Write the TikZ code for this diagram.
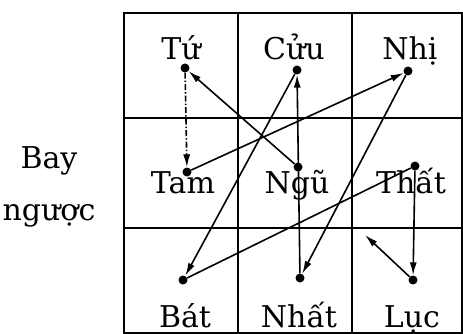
\documentclass[tikz,border=0pt]{standalone}
\usepackage{fontspec}
\setmainfont{DejaVu Serif}
\usetikzlibrary{arrows.meta, positioning}

\begin{document}
\begin{tikzpicture}[
  x=1pt, y=-1pt,
  every node/.style={font=\fontsize{30}{34}\selectfont, inner sep=0pt},
  gridline/.style={line width=1.3pt},
  dot/.style={circle, fill, inner sep=0pt, minimum size=9pt},
  arr/.style={-{Latex[length=13pt, width=7pt]}, line width=1.6pt},
  lnk/.style={line width=1.6pt},
]
  \useasboundingbox (0,0) rectangle (463,334);

  % Grid
  \draw[gridline] (124,13) rectangle (462,333);
  \foreach \x in {238, 352} \draw[gridline] (\x,13) -- (\x,333);
  \foreach \y in {118, 228} \draw[gridline] (124,\y) -- (462,\y);

  % Side label
  \node[anchor=base] (bay) at (49,168) {Bay};
  \node[anchor=base] (nguoc) at (49,220) {ngược};

  % Cell names: number/x/baseline/text
  \foreach \n/\x/\y/\t in {4/181/60/Tứ, 9/294/60/Cửu, 2/410/60/Nhị,
                           3/183/193/Tam, 5/297/193/Ngũ, 7/411/193/Thất,
                           8/185/327/Bát, 1/299/327/Nhất, 6/412/327/Lục}
    \node[anchor=base] (t\n) at (\x,\y) {\t};

  % Stars
  \foreach \n/\x/\y in {4/185/68, 9/297/70, 2/408/71,
                        3/187/172, 5/298/167, 7/415/166,
                        8/183/280, 1/300/278, 6/413/280}
    \node[dot] (d\n) at (\x,\y) {};

  % Flying backwards: 5 4 3 2 1 9 8 7 6
  \draw[arr] (d5) -- (d4);
  \draw[arr, dash pattern=on 6pt off 2pt on 1.5pt off 2pt] (d4) -- (d3);
  \draw[arr] (d3) -- (d2);
  \draw[arr] (d2) -- (d1);
  \draw[arr] (d1) -- (d9);
  \draw[arr] (d9) -- (d8);
  \draw[lnk] (d8) -- (d7);
  \draw[arr] (d7) -- (d6);
  \coordinate (back) at (365,235);
  \draw[arr] (d6) -- (back);
\end{tikzpicture}
\end{document}
